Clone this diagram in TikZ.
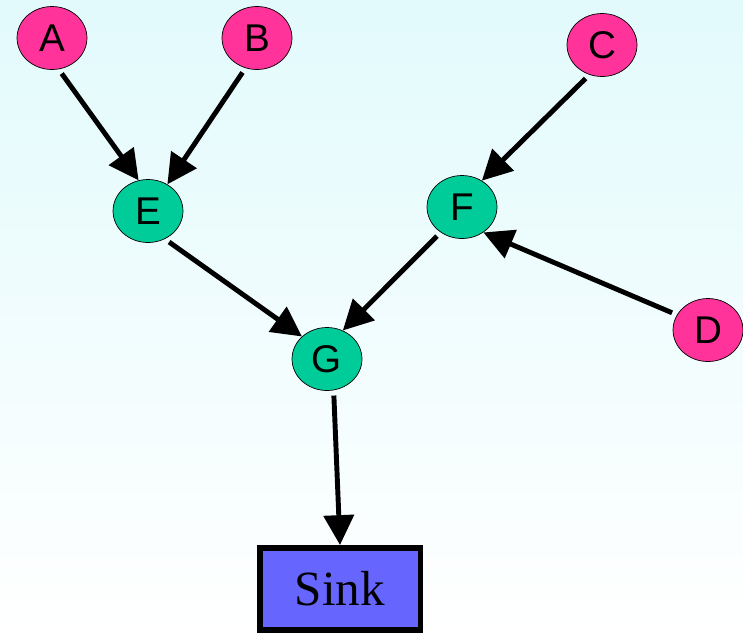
\documentclass[tikz,border=0pt]{standalone}
\usepackage{fontspec}
\setmainfont{Liberation Serif}
\setsansfont{Liberation Sans}
\usetikzlibrary{shapes.geometric,arrows.meta}
\definecolor{srcpink}{RGB}{255,51,153}
\definecolor{midgreen}{RGB}{0,204,153}
\definecolor{sinkblue}{RGB}{102,102,255}
\definecolor{bgtop}{RGB}{226,250,252}
\tikzstyle{flowfig}=[x=0.02cm,y=-0.02cm]
\tikzstyle{vertex}=[ellipse,draw,thin,minimum width=1.4cm,minimum height=1.26cm,inner sep=0pt,font=\sffamily\fontsize{22}{22}\selectfont]
\tikzstyle{source}=[vertex,fill=srcpink]
\tikzstyle{relay}=[vertex,fill=midgreen]
\tikzstyle{sinkbox}=[rectangle,draw,line width=3.4pt,fill=sinkblue,minimum width=3.22cm,minimum height=1.64cm,inner sep=0pt,font=\fontsize{28}{28}\selectfont]
\tikzstyle{edge}=[line width=2.8pt,-{Triangle[length=17pt,width=17pt]},shorten <=3pt]

\begin{document}
\begin{tikzpicture}[style=flowfig]
\shade [top color=bgtop, bottom color=white] (0,0) rectangle (743,633);
\useasboundingbox (0,0) rectangle (743,633);

\node[source] (A) at (52,38) {A};
\node[source] (B) at (257,38) {B};
\node[source] (C) at (602,45) {C};
\node[source] (D) at (708,330) {D};
\node[relay] (E) at (148,211) {E};
\node[relay] (F) at (462,207) {F};
\node[relay] (G) at (327,359) {G};
\node[sinkbox] (S) at (340,589) {Sink};

\draw[edge] (A.-78) -- (E.107);
\draw[edge] (B.-111) -- (E.54);
\draw[edge] (C.-113) -- (F.53);
\draw[edge] (D.154) -- (F.-50);
\draw[edge] (E.-59) -- (G.138);
\draw[edge] (F.-130) -- (G.61);
\draw[edge] (G.-78) -- (S.north);
\end{tikzpicture}
\end{document}
